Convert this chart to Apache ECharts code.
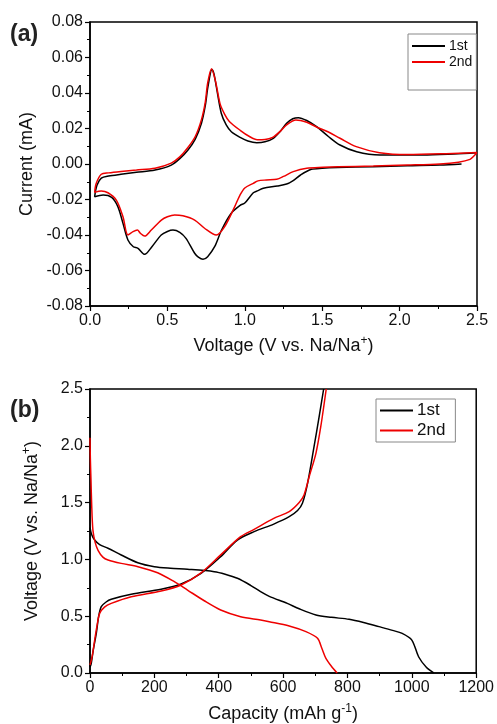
<!DOCTYPE html>
<html>
<head>
<meta charset="utf-8">
<script src="https://cdn.jsdelivr.net/npm/echarts@6/dist/echarts.min.js"></script>
<style>
  html, body { margin: 0; padding: 0; background: #fff; }
  #main { width: 497px; height: 724px; }
</style>
</head>
<body>
<div id="main"></div>
<script>
  // (a) CV curves: [voltage, current]
  var cv1Cathodic = [[2.40,0.0000],[2.26,-0.0006],[2.05,-0.0010],[1.83,-0.0015],[1.60,-0.0020],[1.50,-0.0024],[1.43,-0.0030],[1.36,-0.0062],[1.31,-0.0095],[1.27,-0.0113],[1.21,-0.0124],[1.12,-0.0137],[1.085,-0.0150],[1.055,-0.0162],[1.00,-0.0220],[0.97,-0.0233],[0.91,-0.0280],[0.85,-0.0372],[0.805,-0.0466],[0.76,-0.0522],[0.73,-0.0537],[0.70,-0.0525],[0.676,-0.0503],[0.62,-0.0419],[0.58,-0.0385],[0.536,-0.0372],[0.50,-0.0380],[0.46,-0.0400],[0.40,-0.0466],[0.353,-0.0509],[0.31,-0.0475],[0.28,-0.0466],[0.245,-0.0428],[0.213,-0.0334],[0.18,-0.0240],[0.14,-0.0188],[0.085,-0.0175],[0.03,-0.0184]];
  var cv1Anodic = [[0.03,-0.0184],[0.045,-0.0120],[0.073,-0.0080],[0.12,-0.0068],[0.20,-0.0058],[0.30,-0.0047],[0.42,-0.0034],[0.525,-0.0006],[0.58,0.0030],[0.633,0.0079],[0.68,0.0140],[0.72,0.0230],[0.745,0.0330],[0.762,0.0436],[0.788,0.0533],[0.80,0.0510],[0.816,0.0436],[0.848,0.0286],[0.88,0.0220],[0.913,0.0182],[0.97,0.0150],[1.02,0.0130],[1.077,0.0120],[1.13,0.0125],[1.184,0.0145],[1.23,0.0185],[1.27,0.0229],[1.31,0.0255],[1.346,0.0261],[1.40,0.0245],[1.464,0.0210],[1.54,0.0155],[1.615,0.0107],[1.723,0.0069],[1.873,0.0051],[2.15,0.0051],[2.35,0.0057],[2.50,0.0064]];
  var cv2Cathodic = [[2.50,0.0065],[2.48,0.0045],[2.455,0.0026],[2.38,0.0010],[2.26,0.0000],[2.05,-0.0006],[1.83,-0.0011],[1.60,-0.0016],[1.507,-0.0019],[1.40,-0.0024],[1.313,-0.0043],[1.25,-0.0070],[1.206,-0.0086],[1.14,-0.0090],[1.085,-0.0095],[1.055,-0.0109],[1.00,-0.0135],[0.969,-0.0175],[0.935,-0.0240],[0.87,-0.0353],[0.816,-0.0400],[0.74,-0.0362],[0.676,-0.0316],[0.60,-0.0292],[0.547,-0.0287],[0.50,-0.0297],[0.461,-0.0316],[0.396,-0.0372],[0.353,-0.0406],[0.325,-0.0390],[0.306,-0.0372],[0.278,-0.0381],[0.245,-0.0400],[0.213,-0.0297],[0.17,-0.0203],[0.116,-0.0162],[0.073,-0.0152],[0.03,-0.0160]];
  var cv2Anodic = [[0.03,-0.0160],[0.04,-0.0110],[0.073,-0.0058],[0.12,-0.0050],[0.20,-0.0042],[0.30,-0.0034],[0.42,-0.0024],[0.525,0.0005],[0.58,0.0040],[0.63,0.0090],[0.68,0.0155],[0.72,0.0250],[0.745,0.0350],[0.76,0.0455],[0.785,0.0537],[0.81,0.0470],[0.84,0.0340],[0.87,0.0280],[0.90,0.0240],[0.97,0.0190],[1.03,0.0155],[1.08,0.0137],[1.13,0.0138],[1.18,0.0150],[1.23,0.0185],[1.27,0.0220],[1.33,0.0248],[1.40,0.0235],[1.46,0.0210],[1.54,0.0180],[1.615,0.0145],[1.72,0.0098],[1.87,0.0064],[2.05,0.0053],[2.30,0.0058],[2.50,0.0065]];

  // (b) charge/discharge: [capacity, voltage]
  var gcd1Discharge = [[0,1.28],[5,1.22],[14.5,1.17],[30,1.13],[55.7,1.098],[97,1.039],[148.6,0.971],[200,0.936],[250,0.922],[303,0.913],[386,0.892],[420,0.870],[458,0.834],[500,0.770],[530,0.716],[557,0.675],[613,0.613],[650,0.565],[702,0.511],[750,0.490],[805,0.473],[850,0.445],[898,0.408],[940,0.375],[970,0.349],[1000,0.290],[1021,0.143],[1045,0.050],[1068,0.0]];
  var gcd1Charge = [[0,0.05],[4,0.085],[10,0.20],[19.6,0.349],[27,0.50],[35,0.584],[50,0.625],[66,0.649],[128,0.693],[221,0.737],[283,0.783],[345,0.877],[406,1.024],[458,1.17],[510,1.244],[571,1.311],[619,1.376],[645,1.43],[660,1.494],[676,1.67],[696,1.99],[712,2.256],[726,2.5]];
  var gcd2Discharge = [[0,2.07],[1,1.90],[3,1.70],[5,1.50],[9,1.26],[16,1.15],[25,1.08],[40,1.02],[56,0.995],[97,0.965],[149,0.936],[210,0.883],[262,0.804],[303,0.730],[355,0.636],[406,0.555],[468,0.496],[530,0.467],[557,0.452],[619,0.414],[671,0.364],[707,0.305],[720,0.220],[733,0.129],[750,0.060],[768,0.0]];
  var gcd2Charge = [[0,0.07],[7,0.15],[14.5,0.29],[22,0.42],[30,0.525],[45,0.58],[66,0.613],[128,0.672],[221,0.722],[283,0.775],[345,0.882],[406,1.04],[468,1.2],[510,1.265],[571,1.361],[619,1.42],[650,1.5],[665,1.567],[681,1.728],[702,1.934],[717,2.168],[734,2.5]];

  var legendNames = ['1st', '2nd'];
  var FONT = 'Liberation Sans, Arial, sans-serif';

  var chart = echarts.init(document.getElementById('main'));

  function axisBase() {
    return {
      type: 'value',
      axisLine: { show: true, onZero: false, lineStyle: { color: '#000', width: 1.5 } },
      axisTick: { show: true, inside: false, length: 5, lineStyle: { color: '#000', width: 1.2 } },
      minorTick: { show: true, splitNumber: 2, length: 3, lineStyle: { color: '#000', width: 1 } },
      splitLine: { show: false },
      axisLabel: { color: '#111', fontSize: 16, fontFamily: FONT, margin: 7 },
      nameLocation: 'middle',
      nameTextStyle: { color: '#111', fontSize: 18, fontFamily: FONT,
        rich: { sup: { fontSize: 12, verticalAlign: 'top', padding: [0, 0, 10, 0], color: '#111', fontFamily: FONT } } }
    };
  }

  function line(name, data, color, xi) {
    return {
      name: name, type: 'line', data: data, xAxisIndex: xi, yAxisIndex: xi,
      symbol: 'none', smooth: 0.3, lineStyle: { color: color, width: 1.5 },
      itemStyle: { color: color }, silent: true, animation: false
    };
  }

  var xa = axisBase();
  xa.gridIndex = 0; xa.min = 0; xa.max = 2.5; xa.interval = 0.5;
  xa.axisLabel.formatter = function (v) { return v.toFixed(1); };
  xa.name = 'Voltage (V vs. Na/Na{sup|+})'; xa.nameGap = 29;

  var ya = axisBase();
  ya.gridIndex = 0; ya.min = -0.08; ya.max = 0.08; ya.interval = 0.02;
  ya.axisLabel.formatter = function (v) { return v.toFixed(2); };
  ya.name = 'Current (mA)'; ya.nameGap = 48;

  var xb = axisBase();
  xb.gridIndex = 1; xb.min = 0; xb.max = 1200; xb.interval = 200;
  xb.axisLabel.formatter = function (v) { return String(v); };
  xb.name = 'Capacity (mAh g{sup|-1})'; xb.nameGap = 30;

  var yb = axisBase();
  yb.gridIndex = 1; yb.min = 0; yb.max = 2.5; yb.interval = 0.5;
  yb.axisLabel.formatter = function (v) { return v.toFixed(1); };
  yb.name = 'Voltage (V vs. Na/Na{sup|+})'; yb.nameGap = 47;

  chart.setOption({
    animation: false,
    backgroundColor: '#fff',
    grid: [
      { left: 90, top: 22, width: 387, height: 284, show: true, borderColor: '#000', borderWidth: 1.5, backgroundColor: 'transparent' },
      { left: 90, top: 389, width: 387, height: 284, show: true, borderColor: '#000', borderWidth: 1.5, backgroundColor: 'transparent' }
    ],
    xAxis: [xa, xb],
    yAxis: [ya, yb],
    legend: [
      { data: legendNames, orient: 'vertical', left: 408, top: 34, icon: 'rect', itemWidth: 33, itemHeight: 2, itemGap: 2,
        padding: [5, 4, 21, 4], borderColor: '#888', borderWidth: 1, borderRadius: 0,
        textStyle: { fontSize: 14, fontFamily: FONT, color: '#111', padding: [0, 0, 0, -1] }, selectedMode: false },
      { data: legendNames, orient: 'vertical', left: 376, top: 399, icon: 'rect', itemWidth: 33, itemHeight: 2, itemGap: 3,
        padding: [3, 10, 3, 4], borderColor: '#888', borderWidth: 1, borderRadius: 0,
        textStyle: { fontSize: 17, fontFamily: FONT, color: '#111', padding: [0, 0, 0, -1] }, selectedMode: false }
    ],
    graphic: [
      { type: 'text', left: 10, top: 23, style: { text: '(a)', font: 'bold 23px ' + FONT, fill: '#222' } },
      { type: 'text', left: 10, top: 399, style: { text: '(b)', font: 'bold 23px ' + FONT, fill: '#222' } }
    ],
    series: [
      line('1st', cv1Cathodic.concat(cv1Anodic), '#000', 0),
      line('2nd', cv2Cathodic.concat(cv2Anodic), '#ee0000', 0),
      line('1st', gcd1Discharge, '#000', 1),
      line('1st', gcd1Charge, '#000', 1),
      line('2nd', gcd2Discharge, '#ee0000', 1),
      line('2nd', gcd2Charge, '#ee0000', 1)
    ]
  });
</script>
</body>
</html>
